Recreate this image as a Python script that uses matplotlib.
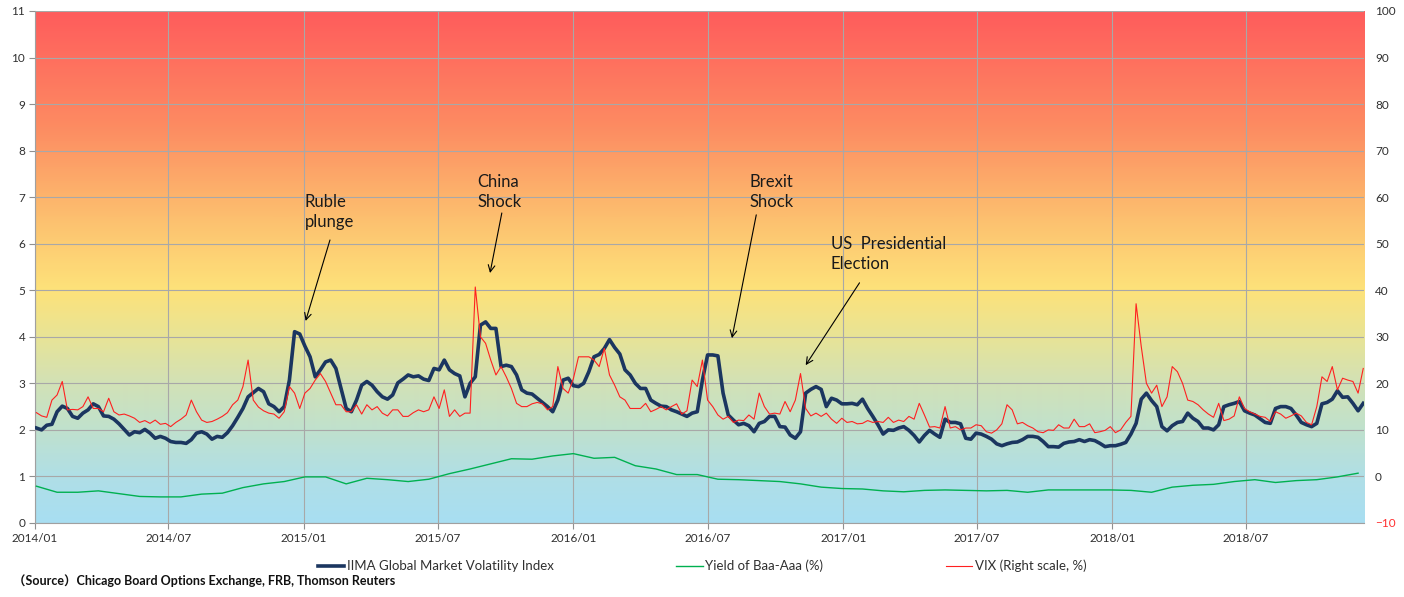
import matplotlib
matplotlib.use("Agg")
import matplotlib.pyplot as plt
import matplotlib.dates as mdates
from matplotlib.colors import LinearSegmentedColormap
import numpy as np
import pandas as pd

plt.rcParams['font.family'] = ['Lato', 'Noto Sans CJK JP', 'DejaVu Sans']

# ---------------- data (weekly, from 2014-01-03) ----------------
start_date = "2014-01-03"

iima = [
    2.04, 2.00, 2.10, 2.12, 2.39, 2.51, 2.46, 2.29, 2.25, 2.36,
    2.43, 2.56, 2.50, 2.30, 2.29, 2.23, 2.13, 2.01, 1.89, 1.96,
    1.94, 2.01, 1.93, 1.82, 1.86, 1.82, 1.75, 1.73, 1.73, 1.71,
    1.79, 1.93, 1.96, 1.91, 1.80, 1.86, 1.84, 1.94, 2.09, 2.27,
    2.46, 2.71, 2.80, 2.89, 2.82, 2.56, 2.50, 2.39, 2.50, 3.07,
    4.11, 4.06, 3.80, 3.57, 3.14, 3.29, 3.46, 3.50, 3.32, 2.89,
    2.46, 2.39, 2.64, 2.96, 3.04, 2.96, 2.82, 2.71, 2.66, 2.75,
    3.01, 3.09, 3.18, 3.14, 3.16, 3.09, 3.06, 3.32, 3.29, 3.50,
    3.29, 3.21, 3.16, 2.71, 3.00, 3.14, 4.25, 4.32, 4.18, 4.18,
    3.36, 3.39, 3.36, 3.18, 2.86, 2.79, 2.77, 2.68, 2.59, 2.50,
    2.39, 2.64, 3.07, 3.11, 2.95, 2.93, 3.00, 3.25, 3.57, 3.62,
    3.75, 3.94, 3.77, 3.63, 3.29, 3.18, 3.00, 2.89, 2.89, 2.64,
    2.57, 2.51, 2.50, 2.43, 2.39, 2.34, 2.29, 2.36, 2.39, 3.07,
    3.61, 3.61, 3.59, 2.79, 2.32, 2.21, 2.11, 2.14, 2.09, 1.96,
    2.14, 2.18, 2.29, 2.29, 2.07, 2.06, 1.89, 1.82, 1.96, 2.79,
    2.87, 2.93, 2.87, 2.50, 2.68, 2.64, 2.56, 2.56, 2.57, 2.54,
    2.66, 2.46, 2.29, 2.11, 1.91, 2.00, 1.99, 2.04, 2.07, 1.99,
    1.88, 1.74, 1.88, 1.99, 1.91, 1.84, 2.23, 2.16, 2.16, 2.13,
    1.82, 1.80, 1.93, 1.91, 1.86, 1.80, 1.70, 1.66, 1.70, 1.73,
    1.74, 1.79, 1.86, 1.86, 1.84, 1.75, 1.64, 1.64, 1.63, 1.71,
    1.74, 1.75, 1.79, 1.75, 1.79, 1.77, 1.71, 1.64, 1.66, 1.66,
    1.69, 1.73, 1.91, 2.14, 2.66, 2.79, 2.63, 2.50, 2.07, 1.98,
    2.09, 2.16, 2.18, 2.36, 2.25, 2.18, 2.04, 2.04, 2.00, 2.11,
    2.50, 2.54, 2.57, 2.61, 2.41, 2.36, 2.32, 2.24, 2.16, 2.14,
    2.46, 2.50, 2.50, 2.46, 2.32, 2.16, 2.11, 2.07, 2.14, 2.56,
    2.59, 2.66, 2.84, 2.70, 2.71, 2.57, 2.41, 2.57,
]

vix = [
    13.7, 13.0, 12.7, 16.4, 17.5, 20.4, 14.3, 14.4, 14.3, 15.0,
    17.1, 14.6, 14.6, 13.9, 16.8, 13.9, 13.2, 13.4, 13.0, 12.5,
    11.6, 12.0, 11.4, 12.1, 11.2, 11.4, 10.7, 11.6, 12.3, 13.2,
    16.4, 13.9, 12.1, 11.6, 11.8, 12.3, 12.9, 13.7, 15.4, 16.4,
    19.3, 25.0, 16.4, 14.9, 14.1, 13.6, 13.4, 12.5, 13.9, 19.3,
    17.9, 14.6, 17.9, 18.9, 20.7, 22.1, 20.4, 17.9, 15.4, 15.4,
    13.9, 13.9, 15.4, 13.4, 15.4, 14.3, 15.0, 13.6, 13.0, 14.3,
    14.3, 12.9, 12.9, 13.7, 14.3, 13.9, 14.3, 17.1, 14.6, 18.6,
    12.9, 14.3, 12.9, 13.6, 13.6, 40.7, 30.0, 28.6, 25.0, 21.8,
    23.6, 21.4, 18.9, 15.7, 15.0, 15.0, 15.6, 15.9, 15.6, 14.3,
    15.0, 23.6, 18.9, 17.9, 21.0, 25.7, 25.7, 25.7, 25.0, 23.6,
    27.5, 21.8, 19.6, 17.1, 16.4, 14.6, 14.6, 14.6, 15.7, 13.9,
    14.4, 15.0, 14.3, 15.0, 15.6, 13.4, 14.1, 20.7, 19.3, 25.0,
    16.4, 15.0, 13.2, 12.3, 12.9, 11.6, 12.1, 12.0, 13.2, 12.3,
    17.9, 15.0, 13.4, 13.6, 13.4, 16.1, 13.9, 16.4, 22.1, 14.6,
    13.0, 13.6, 12.9, 13.6, 12.3, 11.4, 12.5, 11.6, 11.8, 11.3,
    11.4, 12.0, 11.6, 11.8, 11.6, 12.7, 11.6, 12.1, 11.8, 12.9,
    12.3, 15.7, 13.2, 10.6, 10.7, 10.4, 15.0, 10.4, 10.7, 10.0,
    10.4, 10.4, 11.1, 10.9, 9.6, 9.3, 10.0, 11.3, 15.4, 14.3,
    11.3, 11.6, 10.9, 10.4, 9.6, 9.4, 10.0, 9.9, 11.1, 10.4,
    10.4, 12.3, 10.7, 10.7, 11.3, 9.4, 9.6, 9.9, 10.7, 9.4,
    10.0, 11.6, 12.9, 37.1, 27.9, 20.0, 17.9, 19.6, 15.0, 17.1,
    23.6, 22.5, 20.0, 16.4, 16.1, 15.4, 14.3, 13.4, 12.7, 15.7,
    12.0, 12.3, 13.0, 17.1, 14.6, 13.9, 13.4, 12.9, 12.7, 11.8,
    13.9, 13.4, 12.5, 13.0, 13.6, 13.0, 11.6, 11.1, 15.0, 21.4,
    20.4, 23.6, 18.6, 21.1, 20.7, 20.4, 17.9, 23.2,
]

# Baa-Aaa yield spread, every 4 weeks from 2014-01-03
baa_aaa = [
    0.79, 0.66, 0.66, 0.69, 0.63, 0.57, 0.56, 0.56, 0.62, 0.64,
    0.76, 0.84, 0.89, 0.99, 0.99, 0.84, 0.96, 0.93, 0.89, 0.94,
    1.06, 1.16, 1.27, 1.38, 1.37, 1.44, 1.49, 1.39, 1.41, 1.23,
    1.16, 1.04, 1.04, 0.94, 0.93, 0.91, 0.89, 0.84, 0.77, 0.74,
    0.73, 0.69, 0.67, 0.70, 0.71, 0.70, 0.69, 0.70, 0.66, 0.71,
    0.71, 0.71, 0.71, 0.70, 0.66, 0.77, 0.81, 0.83, 0.89, 0.93,
    0.87, 0.91, 0.93, 0.99, 1.07,
]

x_tick_dates = ["2014-01-01", "2014-07-01", "2015-01-01", "2015-07-01",
                "2016-01-01", "2016-07-01", "2017-01-01", "2017-07-01",
                "2018-01-01", "2018-07-01"]
left_ticks = list(range(0, 12))
right_ticks = list(range(-10, 101, 10))

series_labels = ["IIMA Global Market Volatility Index", "Yield of Baa-Aaa (%)",
                 "VIX (Right scale, %)"]

annotations = [
    ("Ruble\nplunge", "2015-01-02", 6.68, "2015-02-05", 6.08, "2015-01-03", 4.34),
    ("China\nShock", "2015-08-24", 7.11, "2015-09-26", 6.66, "2015-09-10", 5.37),
    ("Brexit\nShock", "2016-08-27", 7.11, "2016-09-05", 6.62, "2016-08-03", 3.97),
    ("US  Presidential\nElection", "2016-12-15", 5.78, "2017-01-23", 5.16, "2016-11-11", 3.39),
]

source_text = "（Source）Chicago Board Options Exchange, FRB, Thomson Reuters"

# ---------------- build ----------------
weekly_dates = pd.date_range(start_date, periods=len(iima), freq="7D")
spread_dates = pd.date_range(start_date, periods=len(baa_aaa), freq="28D")

fig = plt.figure(figsize=(14.04, 5.97), dpi=100)
ax = fig.add_axes([0.0249, 0.1240, 0.9466, 0.8576])

xmin = pd.Timestamp("2014-01-01")
xmax = pd.Timestamp("2018-12-08")
ax.set_xlim(xmin, xmax)
ax.set_ylim(0, 11)

# background gradient
stops = [
    (0.0 / 11, (168/255, 222/255, 242/255)),
    (1.0 / 11, (176/255, 223/255, 230/255)),
    (2.0 / 11, (192/255, 225/255, 205/255)),
    (3.0 / 11, (210/255, 225/255, 182/255)),
    (4.0 / 11, (232/255, 228/255, 150/255)),
    (5.0 / 11, (253/255, 226/255, 122/255)),
    (6.0 / 11, (253/255, 205/255, 115/255)),
    (7.0 / 11, (252/255, 180/255, 108/255)),
    (8.5 / 11, (253/255, 140/255, 98/255)),
    (11.0 / 11, (255/255, 92/255, 92/255)),
]
cmap = LinearSegmentedColormap.from_list("bg", stops)
grad = np.linspace(0, 1, 512).reshape(-1, 1)
ax.imshow(grad, cmap=cmap, aspect="auto", origin="lower",
          extent=[mdates.date2num(xmin), mdates.date2num(xmax), 0, 11],
          zorder=0, interpolation="bilinear")

ax.set_axisbelow(True)
ax.grid(True, color="#a8a8a8", linewidth=0.8)

l1, = ax.plot(weekly_dates, iima, color="#1b3660", linewidth=2.6,
              label=series_labels[0], zorder=3, solid_joinstyle="round")
l2, = ax.plot(spread_dates, baa_aaa, color="#00b050", linewidth=1.0,
              label=series_labels[1], zorder=3)

ax2 = ax.twinx()
ax2.set_ylim(-10, 100)
l3, = ax2.plot(weekly_dates, vix, color="#ff2020", linewidth=0.8,
               label=series_labels[2])

# axes styling
ax.set_xticks(pd.to_datetime(x_tick_dates))
ax.xaxis.set_major_formatter(mdates.DateFormatter("%Y/%m"))
ax.set_yticks(left_ticks)
ax.tick_params(axis="both", labelsize=8.5, colors="#404040", length=4,
               width=0.8, direction="out")
ax.tick_params(axis="x", colors="#909090", labelcolor="#303030")
ax.tick_params(axis="y", colors="#909090", labelcolor="#303030", pad=3)
for side in ["top", "right"]:
    ax.spines[side].set_visible(False)
for side in ["left", "bottom"]:
    ax.spines[side].set_color("#a0a0a0")

ax2.set_yticks(right_ticks)
ax2.tick_params(axis="y", labelsize=8.5, length=0, pad=8, labelcolor="#303030")
for side in ["top", "right", "left", "bottom"]:
    ax2.spines[side].set_visible(False)
for lbl in ax2.get_yticklabels():
    if lbl.get_text().replace("\u2212", "-") == "-10":
        lbl.set_color("#ff3030")

# annotations
for text, tx, ty, ax_, ay_, hx, hy in annotations:
    ax.text(pd.Timestamp(tx), ty, text, fontsize=12, ha="left", va="center",
            color="#1a1a1a", linespacing=1.25, zorder=5)
    ax.annotate("", xy=(pd.Timestamp(hx), hy), xytext=(pd.Timestamp(ax_), ay_),
                arrowprops=dict(arrowstyle="->", color="black", lw=0.8,
                                mutation_scale=12, shrinkA=0, shrinkB=0),
                zorder=5)

fig.legend(handles=[l1, l2, l3], loc="center", bbox_to_anchor=(0.5, 0.052),
           ncol=3, frameon=False, fontsize=9.5, handlelength=2.0,
           handletextpad=0.2, columnspacing=9.3, labelcolor="#303030")

fig.text(0.009, 0.027, source_text, fontsize=9, fontweight="bold",
         ha="left", va="center", color="#111111")

fig.savefig("out.png", dpi=100)
